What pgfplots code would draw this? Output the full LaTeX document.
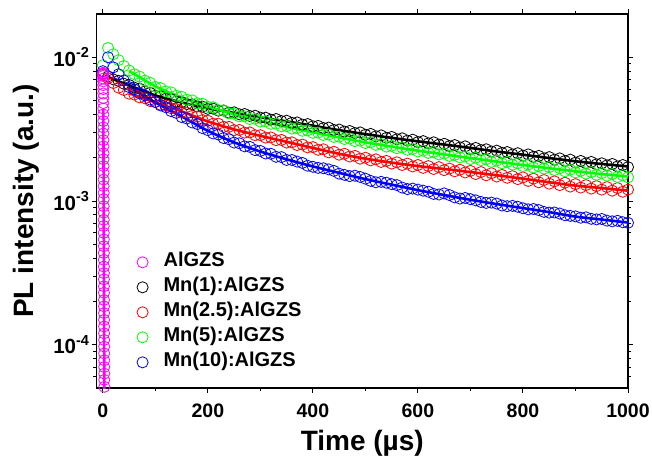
\documentclass[border=0pt]{standalone}
\usepackage{pgfplots}
\pgfplotsset{compat=1.18}
\usepackage{fontspec}
\setmainfont{Liberation Sans}
\definecolor{cmag}{RGB}{255,0,255}
\definecolor{cgreen}{RGB}{0,255,0}
\definecolor{cred}{RGB}{255,0,0}
\definecolor{cblue}{RGB}{0,0,255}
\newcommand{\sx}[1]{10\raisebox{0.42em}{\fontsize{14.5bp}{15bp}\selectfont #1}}
\begin{document}
\begin{tikzpicture}
\path[use as bounding box] (-96.5bp,-68bp) rectangle (555.5bp,388bp);
\begin{axis}[
 at={(0,0)}, anchor=south west,
 scale only axis, width=531.5bp, height=374bp,
 xmin=-12, xmax=1000, ymode=log, ymin=5e-5, ymax=2e-2,
 axis line style={line width=1.3bp},
 tick align=outside, major tick length=5bp, minor tick length=3bp,
 every tick/.style={black, line width=1bp},
 xtick={0,200,400,600,800,1000}, xticklabels={0,200,400,600,800,1000},
 minor xtick={100,300,500,700,900},
 ytick={1e-4,1e-3,1e-2},
 yticklabels={\sx{-4},\sx{-3},\sx{-2}},
 minor ytick={6e-5,7e-5,8e-5,9e-5,2e-4,3e-4,4e-4,5e-4,6e-4,7e-4,8e-4,9e-4,2e-3,3e-3,4e-3,5e-3,6e-3,7e-3,8e-3,9e-3},
 ticklabel style={font=\fontsize{19.5bp}{22bp}\selectfont\bfseries},
 xticklabel style={yshift=-7bp},
 yticklabel style={font=\fontsize{20.5bp}{22bp}\selectfont\bfseries, xshift=1bp},
 /pgf/number format/assume math mode=true,
 xlabel={Time (µs)}, ylabel={PL intensity (a.u.)},
 label style={font=\fontsize{28bp}{32bp}\selectfont\bfseries},
 xlabel style={at={(axis description cs:0.5,-0.111)}, anchor=north, inner sep=0pt},
 ylabel style={at={(axis description cs:-0.158,0.5)}, anchor=north, inner sep=0pt},
 legend style={draw=none, fill=none, at={(axis description cs:0.0758,0.362)}, anchor=north west,
   font=\fontsize{20bp}{22bp}\selectfont\bfseries, inner sep=0pt,
   nodes={inner sep=0pt, text height=14bp, text depth=5bp}, row sep=6bp},
 legend cell align=left,
 legend image code/.code={\draw[#1] plot coordinates {(0bp,0bp)}; \path[draw=none] (-5.6bp,0bp) -- (21bp,0bp);},
]
\addlegendimage{only marks, mark=o, mark size=5.6pt, cmag, mark options={line width=0.8bp}}
\addlegendentry{AlGZS}
\addlegendimage{only marks, mark=o, mark size=5.6pt, black, mark options={line width=0.8bp}}
\addlegendentry{Mn(1):AlGZS}
\addlegendimage{only marks, mark=o, mark size=5.6pt, cred, mark options={line width=0.8bp}}
\addlegendentry{Mn(2.5):AlGZS}
\addlegendimage{only marks, mark=o, mark size=5.6pt, cgreen, mark options={line width=0.8bp}}
\addlegendentry{Mn(5):AlGZS}
\addlegendimage{only marks, mark=o, mark size=5.6pt, cblue, mark options={line width=0.8bp}}
\addlegendentry{Mn(10):AlGZS}

% Mn(1):AlGZS
\addplot[forget plot, only marks, mark=o, mark size=5.6pt, black, mark options={line width=0.8bp}] coordinates {
(0,7.60e-3) (10,7.35e-3) (20,7.02e-3) (30,6.85e-3) (40,6.55e-3) (50,6.42e-3) (60,6.15e-3) (70,6.05e-3) (80,5.78e-3) (90,5.66e-3)
(100,5.40e-3) (110,5.36e-3) (120,5.15e-3) (130,5.12e-3) (140,4.93e-3) (150,4.88e-3) (160,4.72e-3) (170,4.70e-3) (180,4.55e-3) (190,4.53e-3)
(200,4.38e-3) (210,4.39e-3) (220,4.25e-3) (230,4.26e-3) (240,4.12e-3) (250,4.14e-3) (260,4.01e-3) (270,4.03e-3) (280,3.90e-3) (290,3.92e-3)
(300,3.80e-3) (310,3.80e-3) (320,3.68e-3) (330,3.72e-3) (340,3.60e-3) (350,3.62e-3) (360,3.50e-3) (370,3.52e-3) (380,3.40e-3) (390,3.43e-3)
(400,3.31e-3) (410,3.33e-3) (420,3.22e-3) (430,3.24e-3) (440,3.12e-3) (450,3.14e-3) (460,3.04e-3) (470,3.07e-3) (480,2.97e-3) (490,3.00e-3)
(500,2.89e-3) (510,2.93e-3) (520,2.82e-3) (530,2.86e-3) (540,2.75e-3) (550,2.79e-3) (560,2.69e-3) (570,2.73e-3) (580,2.63e-3) (590,2.67e-3)
(600,2.57e-3) (610,2.61e-3) (620,2.52e-3) (630,2.56e-3) (640,2.47e-3) (650,2.50e-3) (660,2.41e-3) (670,2.45e-3) (680,2.36e-3) (690,2.40e-3)
(700,2.29e-3) (710,2.34e-3) (720,2.26e-3) (730,2.29e-3) (740,2.21e-3) (750,2.24e-3) (760,2.16e-3) (770,2.19e-3) (780,2.11e-3) (790,2.15e-3)
(800,2.07e-3) (810,2.11e-3) (820,2.03e-3) (830,2.06e-3) (840,1.98e-3) (850,2.02e-3) (860,1.94e-3) (870,1.98e-3) (880,1.90e-3) (890,1.94e-3)
(900,1.85e-3) (910,1.90e-3) (920,1.83e-3) (930,1.87e-3) (940,1.80e-3) (950,1.83e-3) (960,1.77e-3) (970,1.81e-3) (980,1.74e-3) (990,1.78e-3)
(1000,1.72e-3)};
\addplot[forget plot, black, line width=2.6bp, smooth] coordinates {
(10,7.30e-3) (20,7.05e-3) (30,6.80e-3) (50,6.38e-3) (100,5.43e-3) (150,4.85e-3) (200,4.41e-3) (250,4.10e-3) (300,3.82e-3) (350,3.58e-3)
(400,3.34e-3) (450,3.11e-3) (500,2.92e-3) (550,2.75e-3) (600,2.60e-3) (650,2.47e-3) (700,2.34e-3) (750,2.21e-3) (800,2.10e-3) (850,1.99e-3)
(900,1.89e-3) (950,1.81e-3) (1000,1.74e-3)};

% Mn(2.5):AlGZS
\addplot[forget plot, only marks, mark=o, mark size=5.6pt, cred, mark options={line width=0.8bp}] coordinates {
(0,7.60e-3) (10,7.15e-3) (20,6.62e-3) (30,6.15e-3) (40,5.92e-3) (50,5.58e-3) (60,5.50e-3) (70,5.26e-3) (80,5.19e-3) (90,4.96e-3)
(100,4.88e-3) (110,4.68e-3) (120,4.63e-3) (130,4.42e-3) (140,4.37e-3) (150,4.16e-3) (160,4.12e-3) (170,3.91e-3) (180,3.87e-3) (190,3.66e-3)
(200,3.62e-3) (210,3.45e-3) (220,3.45e-3) (230,3.28e-3) (240,3.28e-3) (250,3.11e-3) (260,3.12e-3) (270,2.99e-3) (280,3.00e-3) (290,2.87e-3)
(300,2.87e-3) (310,2.76e-3) (320,2.77e-3) (330,2.65e-3) (340,2.66e-3) (350,2.55e-3) (360,2.56e-3) (370,2.45e-3) (380,2.47e-3) (390,2.36e-3)
(400,2.37e-3) (410,2.27e-3) (420,2.29e-3) (430,2.18e-3) (440,2.20e-3) (450,2.10e-3) (460,2.13e-3) (470,2.04e-3) (480,2.06e-3) (490,1.97e-3)
(500,2.00e-3) (510,1.92e-3) (520,1.95e-3) (530,1.87e-3) (540,1.90e-3) (550,1.82e-3) (560,1.86e-3) (570,1.78e-3) (580,1.82e-3) (590,1.74e-3)
(600,1.78e-3) (610,1.70e-3) (620,1.75e-3) (630,1.67e-3) (640,1.72e-3) (650,1.64e-3) (660,1.68e-3) (670,1.61e-3) (680,1.65e-3) (690,1.58e-3)
(700,1.62e-3) (710,1.54e-3) (720,1.59e-3) (730,1.51e-3) (740,1.56e-3) (750,1.48e-3) (760,1.52e-3) (770,1.45e-3) (780,1.49e-3) (790,1.42e-3)
(800,1.46e-3) (810,1.38e-3) (820,1.43e-3) (830,1.35e-3) (840,1.40e-3) (850,1.32e-3) (860,1.37e-3) (870,1.29e-3) (880,1.34e-3) (890,1.26e-3)
(900,1.31e-3) (910,1.24e-3) (920,1.29e-3) (930,1.22e-3) (940,1.27e-3) (950,1.20e-3) (960,1.25e-3) (970,1.18e-3) (980,1.23e-3) (990,1.16e-3)
(1000,1.20e-3)};
\addplot[forget plot, cred, line width=2.6bp, smooth] coordinates {
(50,5.61e-3) (100,4.85e-3) (150,4.20e-3) (200,3.58e-3) (250,3.15e-3) (300,2.84e-3) (350,2.58e-3) (400,2.34e-3) (450,2.13e-3) (500,1.97e-3)
(550,1.85e-3) (600,1.75e-3) (650,1.67e-3) (700,1.59e-3) (750,1.51e-3) (800,1.43e-3) (850,1.35e-3) (900,1.28e-3) (950,1.23e-3) (1000,1.18e-3)};

% Mn(5):AlGZS
\addplot[forget plot, only marks, mark=o, mark size=5.6pt, cgreen, mark options={line width=0.8bp}] coordinates {
(0,8.80e-3) (10,11.6e-3) (20,10.5e-3) (30,9.55e-3) (40,8.70e-3) (50,8.10e-3) (60,7.62e-3) (70,7.33e-3) (80,6.88e-3) (90,6.65e-3)
(100,6.22e-3) (110,6.10e-3) (120,5.80e-3) (130,5.70e-3) (140,5.40e-3) (150,5.31e-3) (160,5.07e-3) (170,5.02e-3) (180,4.79e-3) (190,4.74e-3)
(200,4.52e-3) (210,4.49e-3) (220,4.29e-3) (230,4.27e-3) (240,4.07e-3) (250,4.05e-3) (260,3.88e-3) (270,3.89e-3) (280,3.72e-3) (290,3.73e-3)
(300,3.57e-3) (310,3.58e-3) (320,3.44e-3) (330,3.45e-3) (340,3.31e-3) (350,3.32e-3) (360,3.19e-3) (370,3.21e-3) (380,3.08e-3) (390,3.10e-3)
(400,2.98e-3) (410,2.99e-3) (420,2.88e-3) (430,2.90e-3) (440,2.79e-3) (450,2.80e-3) (460,2.70e-3) (470,2.72e-3) (480,2.61e-3) (490,2.63e-3)
(500,2.53e-3) (510,2.56e-3) (520,2.46e-3) (530,2.49e-3) (540,2.39e-3) (550,2.42e-3) (560,2.33e-3) (570,2.36e-3) (580,2.27e-3) (590,2.30e-3)
(600,2.21e-3) (610,2.24e-3) (620,2.16e-3) (630,2.19e-3) (640,2.11e-3) (650,2.14e-3) (660,2.06e-3) (670,2.09e-3) (680,2.01e-3) (690,2.04e-3)
(700,1.96e-3) (710,2.00e-3) (720,1.92e-3) (730,1.95e-3) (740,1.87e-3) (750,1.91e-3) (760,1.83e-3) (770,1.87e-3) (780,1.79e-3) (790,1.83e-3)
(800,1.75e-3) (810,1.79e-3) (820,1.71e-3) (830,1.75e-3) (840,1.68e-3) (850,1.72e-3) (860,1.64e-3) (870,1.69e-3) (880,1.61e-3) (890,1.65e-3)
(900,1.58e-3) (910,1.62e-3) (920,1.55e-3) (930,1.59e-3) (940,1.52e-3) (950,1.56e-3) (960,1.50e-3) (970,1.54e-3) (980,1.47e-3) (990,1.51e-3)
(1000,1.46e-3)};
\addplot[forget plot, cgreen, line width=2.6bp, smooth] coordinates {
(50,8.05e-3) (100,6.28e-3) (150,5.26e-3) (200,4.56e-3) (250,4.01e-3) (300,3.61e-3) (350,3.28e-3) (400,3.01e-3) (450,2.77e-3) (500,2.56e-3)
(550,2.39e-3) (600,2.24e-3) (650,2.11e-3) (700,1.99e-3) (750,1.88e-3) (800,1.78e-3) (850,1.69e-3) (900,1.61e-3) (950,1.54e-3) (1000,1.48e-3)};

% Mn(10):AlGZS
\addplot[forget plot, only marks, mark=o, mark size=5.6pt, cblue, mark options={line width=0.8bp}] coordinates {
(0,8.00e-3) (10,10.0e-3) (20,8.50e-3) (30,7.62e-3) (40,6.90e-3) (50,6.20e-3) (60,5.98e-3) (70,5.62e-3) (80,5.43e-3) (90,5.08e-3)
(100,4.88e-3) (110,4.62e-3) (120,4.49e-3) (130,4.22e-3) (140,4.10e-3) (150,3.84e-3) (160,3.75e-3) (170,3.52e-3) (180,3.43e-3) (190,3.21e-3)
(200,3.11e-3) (210,2.95e-3) (220,2.90e-3) (230,2.74e-3) (240,2.69e-3) (250,2.55e-3) (260,2.52e-3) (270,2.40e-3) (280,2.38e-3) (290,2.26e-3)
(300,2.23e-3) (310,2.14e-3) (320,2.13e-3) (330,2.03e-3) (340,2.02e-3) (350,1.93e-3) (360,1.93e-3) (370,1.88e-3) (380,1.84e-3) (390,1.76e-3)
(400,1.73e-3) (410,1.70e-3) (420,1.69e-3) (430,1.66e-3) (440,1.62e-3) (450,1.55e-3) (460,1.52e-3) (470,1.49e-3) (480,1.50e-3) (490,1.47e-3)
(500,1.43e-3) (510,1.38e-3) (520,1.35e-3) (530,1.36e-3) (540,1.34e-3) (550,1.31e-3) (560,1.29e-3) (570,1.24e-3) (580,1.21e-3) (590,1.22e-3)
(600,1.20e-3) (610,1.18e-3) (620,1.16e-3) (630,1.12e-3) (640,1.11e-3) (650,1.13e-3) (660,1.10e-3) (670,1.06e-3) (680,1.04e-3) (690,1.05e-3)
(700,1.03e-3) (710,1.01e-3) (720,0.985e-3) (730,0.970e-3) (740,0.975e-3) (750,0.960e-3) (760,0.930e-3) (770,0.920e-3) (780,0.925e-3) (790,0.912e-3)
(800,0.890e-3) (810,0.875e-3) (820,0.880e-3) (830,0.865e-3) (840,0.840e-3) (850,0.830e-3) (860,0.832e-3) (870,0.818e-3) (880,0.796e-3) (890,0.788e-3)
(900,0.782e-3) (910,0.765e-3) (920,0.770e-3) (930,0.752e-3) (940,0.745e-3) (950,0.750e-3) (960,0.730e-3) (970,0.722e-3) (980,0.728e-3) (990,0.712e-3)
(1000,0.705e-3)};
\addplot[forget plot, cblue, line width=2.6bp, smooth] coordinates {
(50,6.23e-3) (100,4.85e-3) (150,3.88e-3) (200,3.08e-3) (250,2.56e-3) (300,2.21e-3) (350,1.95e-3) (400,1.74e-3) (450,1.57e-3) (500,1.42e-3)
(550,1.30e-3) (600,1.19e-3) (650,1.10e-3) (700,1.02e-3) (750,0.952e-3) (800,0.893e-3) (850,0.837e-3) (900,0.779e-3) (950,0.743e-3) (1000,0.708e-3)};

% AlGZS
\addplot[forget plot, only marks, mark=o, mark size=5.6pt, cmag, mark options={line width=0.8bp}] coordinates {
(0.50,7.6e-3) (0.55,7.8e-3) (0.59,7.7e-3) (0.64,7.4e-3) (0.68,7.1e-3) (0.73,6.8e-3) (0.77,6.4e-3) (0.82,6.0e-3) (0.86,5.6e-3) (0.91,5.2e-3)
(0.95,4.8e-3) (1.00,4.4e-3) (1.04,4.0e-3) (1.09,3.6e-3) (1.13,3.25e-3) (1.18,2.95e-3) (1.22,2.65e-3) (1.27,2.4e-3) (1.31,2.15e-3) (1.36,1.95e-3)
(1.40,1.75e-3) (1.45,1.57e-3) (1.49,1.41e-3) (1.54,1.27e-3) (1.58,1.14e-3) (1.63,1.03e-3) (1.67,9.2e-4) (1.72,8.3e-4) (1.76,7.4e-4) (1.81,6.7e-4)
(1.85,6.0e-4) (1.90,5.4e-4) (1.94,4.85e-4) (1.99,4.35e-4) (2.03,3.9e-4) (2.08,3.5e-4) (2.12,3.15e-4) (2.17,2.85e-4) (2.21,2.55e-4) (2.26,2.3e-4)
(2.30,2.05e-4) (2.35,1.85e-4) (2.39,1.66e-4) (2.44,1.49e-4) (2.48,1.34e-4) (2.53,1.2e-4) (2.57,1.08e-4) (2.62,9.7e-5) (2.66,8.7e-5) (2.71,7.8e-5)
(2.75,7.0e-5) (2.80,6.3e-5) (2.84,5.7e-5) (2.89,5.1e-5) (2.93,4.6e-5) (2.98,4.1e-5)};
\addplot[forget plot, cmag, line width=2.6bp] coordinates {
(1.0,4.4e-3) (1.5,1.4e-3) (2.0,4.3e-4) (2.5,1.3e-4) (3.0,4.0e-5)};
\end{axis}
\end{tikzpicture}
\end{document}
